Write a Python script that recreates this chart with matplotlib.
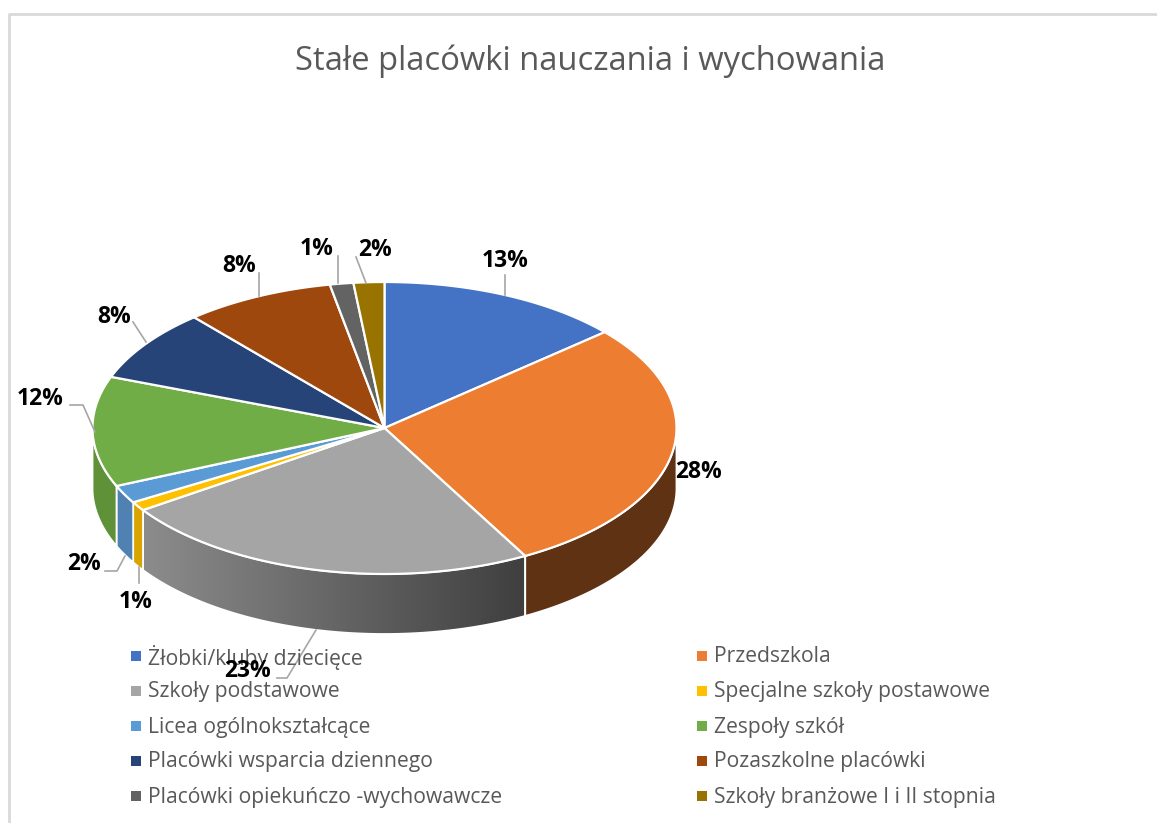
import numpy as np
import matplotlib
matplotlib.use("Agg")
import matplotlib.pyplot as plt
from matplotlib.patches import Polygon

title = "Stałe placówki nauczania i wychowania"
categories = ["Żłobki/kluby dziecięce", "Przedszkola", "Szkoły podstawowe",
              "Specjalne szkoły postawowe", "Licea ogólnokształcące", "Zespoły szkół",
              "Placówki wsparcia dziennego", "Pozaszkolne placówki",
              "Placówki opiekuńczo -wychowawcze", "Szkoły branżowe I i II stopnia"]
values = [13.6, 28.4, 23.5, 1.0, 2.0, 12.2, 8.0, 8.3, 1.3, 1.7]
labels = ["13%", "28%", "23%", "1%", "2%", "12%", "8%", "8%", "1%", "2%"]
colors = ["#4472c4", "#ed7d31", "#a5a5a5", "#ffc000", "#5b9bd5",
          "#70ad47", "#264478", "#9e480e", "#636363", "#997300"]
side_colors = ["#3a61a8", "#5e3213", "#8a8a8a", "#d9a300", "#4f82b2",
               "#5f9139", "#203a66", "#86400c", "#545454", "#826200"]

# label centres and leader lines, in pixels
label_pos = [(505, 261), (699, 472), (248, 671), (136, 602), (84, 564),
             (40, 399), (114, 317), (239, 266), (317, 249), (375, 250)]
leaders = [[(505, 275), (505, 295)], [], [(277, 678), (287, 678), (316, 630)],
           [(139, 567), (139, 583)], [(105, 571), (117, 571), (125, 556)],
           [(70, 405), (83, 405), (95, 432)], [(133, 322), (146, 342)],
           [(259, 273), (259, 296)], [(338, 256), (338, 283)], [(356, 257), (366, 283)]]

cx, cy, rx, ry, depth = 384.5, 428, 292, 146, 60


def ell(a):
    # a = degrees clockwise from twelve o'clock
    r = np.radians(a)
    return cx + rx * np.sin(r), cy - ry * np.cos(r)


fig = plt.figure(figsize=(11.57, 8.23), dpi=100)
ax = fig.add_axes([0, 0, 1, 1])
ax.set_xlim(0, 1157)
ax.set_ylim(823, 0)
ax.axis("off")

# chart frame
ax.plot([8.5, 8.5, 1157], [823, 13.5, 13.5], color="#d9d9d9", lw=2)

ax.text(590, 61, title, ha="center", va="center", fontsize=23.6,
        family="Open Sans", color="#595959")

edges = np.concatenate([[0], np.cumsum(values)]) / sum(values) * 360

# sides first (only the front half of the rim shows)
for i in range(len(values)):
    a0, a1 = max(edges[i], 90), min(edges[i + 1], 270)
    if a1 <= a0:
        continue
    t = np.linspace(a0, a1, 80)
    x, y = ell(t)
    pts = np.column_stack([np.r_[x, x[::-1]], np.r_[y, y[::-1] + depth]])
    if categories[i] == "Szkoły podstawowe":
        # this side fades from left to right
        poly = Polygon(pts, closed=True, fc="none", ec="none")
        ax.add_patch(poly)
        grad = np.linspace(0, 1, 256).reshape(1, -1)
        cmap = matplotlib.colors.LinearSegmentedColormap.from_list("g", ["#8c8c8c", "#3f3f3f"])
        im = ax.imshow(grad, extent=[x.min(), x.max(), y.max() + depth, y.min()],
                       cmap=cmap, aspect="auto", zorder=2)
        im.set_clip_path(poly)
        ax.set_xlim(0, 1157)
        ax.set_ylim(823, 0)
        ax.add_patch(Polygon(pts, closed=True, fc="none", ec="white", lw=1.3, zorder=3))
    else:
        ax.add_patch(Polygon(pts, closed=True, fc=side_colors[i], ec="white", lw=1.3, zorder=3))

# top of the pie
for i in range(len(values)):
    t = np.linspace(edges[i], edges[i + 1], 120)
    x, y = ell(t)
    pts = np.column_stack([np.r_[cx, x], np.r_[cy, y]])
    ax.add_patch(Polygon(pts, closed=True, fc=colors[i], ec="white", lw=1.6, zorder=4))

for seg in leaders:
    if seg:
        xs, ys = zip(*seg)
        ax.plot(xs, ys, color="#a6a6a6", lw=1.2, zorder=5)

# legend
leg_y = [656, 691, 726, 761, 796]
for i, name in enumerate(categories):
    col = i % 2
    yy = leg_y[i // 2]
    mx = 135.5 if col == 0 else 702
    ax.scatter([mx], [yy], marker="s", s=45, color=colors[i], zorder=5, linewidths=0)
    ax.text(mx + 12.5, yy + 1, name, ha="left", va="center", fontsize=15.2,
            family="Open Sans", color="#595959", zorder=6)

for lab, (lx, ly) in zip(labels, label_pos):
    ax.text(lx, ly, lab, ha="center", va="center", fontsize=16.5, fontweight="bold",
            family="Open Sans", color="black", zorder=7)

fig.savefig("out.png", dpi=100)
